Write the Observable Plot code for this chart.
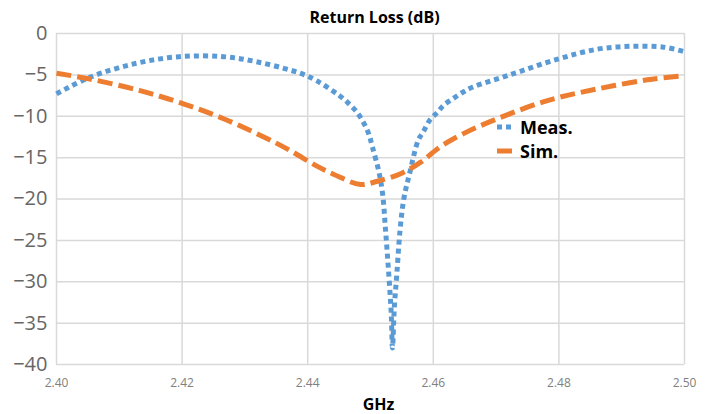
<!DOCTYPE html>
<html><head><meta charset="utf-8">
<script src="https://cdn.jsdelivr.net/npm/d3@7"></script>
<script src="https://cdn.jsdelivr.net/npm/@observablehq/plot@0.6"></script>
<style>
body{margin:0;background:#fff;}
#wrap{position:relative;width:716px;height:414px;font-family:"Open Sans",sans-serif;}
.leg{position:absolute;left:496px;height:24px;display:flex;align-items:center;font-weight:bold;font-size:18px;color:#000;}
.leg svg{margin-right:8px;}
</style></head><body><div id="wrap"></div>
<script>
const title = "Return Loss (dB)";
const xLabel = "GHz";
const seriesNames = ["Meas.", "Sim."];
const xTicks = [2.40, 2.42, 2.44, 2.46, 2.48, 2.50];
const yTicks = [0, -5, -10, -15, -20, -25, -30, -35, -40];

const measFreq = [2.400, 2.4053, 2.4127, 2.4196, 2.4266, 2.4318, 2.4371, 2.4395, 2.4414, 2.4441, 2.4452, 2.4463, 2.4476, 2.4487, 2.4497, 2.4503, 2.4513, 2.4519, 2.4524, 2.4529, 2.4533, 2.4535, 2.4538, 2.4542, 2.4547, 2.4553, 2.4562, 2.4576, 2.4584, 2.4594, 2.4607, 2.4616, 2.4631, 2.4647, 2.4662, 2.4718, 2.4798, 2.4861, 2.4914, 2.4967, 2.500];
const measDb   = [-7.3, -5.3, -3.6, -2.8, -2.8, -3.4, -4.4, -5.0, -5.7, -7.0, -7.6, -8.3, -9.3, -10.5, -12.1, -13.7, -16.6, -19.2, -23.8, -29.0, -33.8, -38.0, -33.0, -29.0, -23.8, -20.0, -17.0, -12.9, -11.9, -10.5, -9.5, -8.7, -7.9, -7.1, -6.5, -5.1, -3.1, -1.9, -1.55, -1.65, -2.2];

const simFreq = [2.400, 2.4053, 2.4133, 2.4202, 2.4266, 2.4330, 2.4371, 2.4414, 2.4441, 2.4484, 2.4511, 2.4548, 2.4580, 2.4611, 2.4648, 2.4702, 2.4782, 2.4861, 2.4941, 2.500];
const simDb   = [-4.8, -5.5, -6.9, -8.5, -10.3, -12.5, -14.1, -16.0, -17.0, -18.25, -17.85, -16.95, -15.55, -13.7, -12.1, -10.3, -8.1, -6.7, -5.6, -5.1];

const meas = measFreq.map((f, i) => ({f, db: measDb[i]}));
const sim = simFreq.map((f, i) => ({f, db: simDb[i]}));

const blue = "#5B9BD5", orange = "#ED7D31", grid = "#d9d9d9";

const chart = Plot.plot({
  width: 716, height: 414,
  marginLeft: 56, marginRight: 32, marginTop: 33, marginBottom: 50,
  style: {fontFamily: "'Open Sans', sans-serif", background: "#fff"},
  x: {domain: [2.40, 2.50]},
  y: {domain: [-40, 0]},
  marks: [
    Plot.gridX(xTicks, {stroke: grid, strokeOpacity: 1, strokeWidth: 1.5}),
    Plot.gridY(yTicks, {stroke: grid, strokeOpacity: 1, strokeWidth: 1.5}),
    Plot.axisX(xTicks, {tickSize: 0, tickPadding: 14, tickFormat: d3.format(".2f"), fontSize: 12, fill: "#808080", label: null}),
    Plot.axisY(yTicks, {tickSize: 0, tickPadding: 9, fontSize: 20, fill: "#666666", label: null}),
    Plot.line(meas, {x: "f", y: "db", stroke: blue, strokeWidth: 5, strokeDasharray: "5,4", strokeLinecap: "butt", curve: "catmull-rom"}),
    Plot.line(sim, {x: "f", y: "db", stroke: orange, strokeWidth: 5, strokeDasharray: "15,6", strokeLinecap: "butt", curve: "catmull-rom"}),
    Plot.text([title], {frameAnchor: "top", lineAnchor: "middle", dy: -16, dx: 4, fontWeight: "bold", fontSize: 16, fill: "#000"}),
    Plot.text([xLabel], {frameAnchor: "bottom", lineAnchor: "middle", dy: 40, dx: 8, fontWeight: "bold", fontSize: 16, fill: "#000"})
  ]
});
const wrap = document.getElementById("wrap");
wrap.appendChild(chart);

const legendStyles = [
  {color: blue, dash: "5,4", top: 115},
  {color: orange, dash: "15,6", top: 139}
];
seriesNames.forEach((name, i) => {
  const s = legendStyles[i];
  const div = document.createElement("div");
  div.className = "leg";
  div.style.top = s.top + "px";
  div.innerHTML = `<svg width="16" height="10"><line x1="1" y1="5" x2="16" y2="5" stroke="${s.color}" stroke-width="5" stroke-dasharray="${s.dash}"/></svg><span>${name}</span>`;
  wrap.appendChild(div);
});
</script>
</body></html>
